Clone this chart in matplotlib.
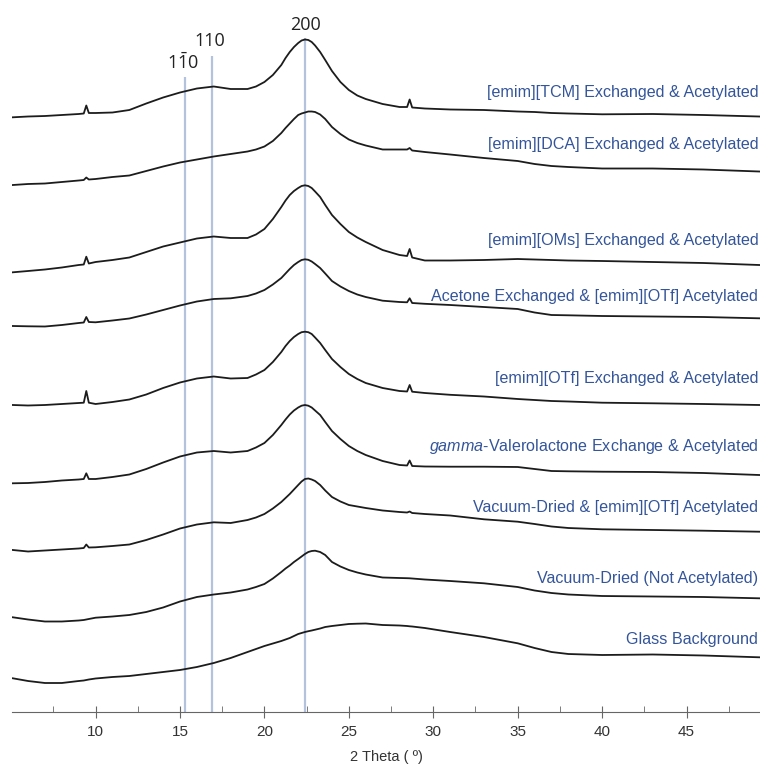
import numpy as np
import matplotlib.pyplot as plt
from matplotlib.ticker import MultipleLocator

# 2-theta sampling (degrees) shared by every pattern
two_theta = [5.1, 6, 7, 8, 9, 9.3, 9.45, 9.6, 10, 11, 12, 13, 14, 15, 16, 17, 18, 19,
             19.5, 20, 20.5, 21, 21.25, 21.5, 21.75, 22, 22.2, 22.4, 22.6, 22.8, 23.0, 23.3, 23.6,
             24, 24.5, 25, 25.5, 26, 27, 28, 28.45, 28.6, 28.75, 29.5, 31, 33, 35, 36, 37, 38,
             40, 43, 46, 49.3]

# stacked intensities (a.u.), top pattern first
tcm = [594.7, 595.5, 596, 597, 598, 598.5, 606.5, 599, 599, 599.5, 602, 608.5, 614.5, 619.5, 623.5,
       625.5, 623, 623,
       625.5, 630, 637, 647, 654, 660, 665, 669, 671.5, 672.5, 672, 670, 666.5, 660, 652, 641, 630,
       622, 616.5, 613,
       608, 605, 605, 612.5, 604.5, 603.5, 602.5, 602, 600.5, 600, 599, 598.5, 597.7, 598, 597, 595.5]
dca = [527, 528, 528.5, 530, 531.5, 532, 534.5, 532.5, 533, 535, 536.5, 541, 545.5, 549.5, 552.5,
       555.5, 558, 560.5,
       562.5, 565.5, 571, 579, 584, 588.5, 593, 597, 598.5, 599.5, 600.5, 600.5, 600, 597.5, 593,
       585, 578, 572.5, 569, 566.5,
       562.5, 562.5, 562.5, 564, 561.5, 560, 557.5, 554, 551, 548, 546, 545, 543.5, 543.5, 542.5, 540.5]
oms = [439.7, 441, 442.5, 444.5, 447, 447.5, 455.3, 448.5, 450, 452, 454.5, 460, 465.5, 469.5, 473.5,
       475.5, 474, 474,
       477.5, 483, 493, 505, 511.5, 517, 521, 524, 526, 526.7, 526, 524, 520.5, 515, 507, 497, 488,
       480, 474.5, 470,
       462, 457, 456, 463, 454.5, 451.5, 451.5, 452, 453, 452.5, 452, 451.5, 451, 450, 449, 447]
acetone = [386, 385.7, 385.5, 387, 389, 389.5, 395, 390, 389.7, 391.5, 393.5, 397.5, 402, 406.5, 410.5,
           413, 413.7, 416,
           418.5, 422, 427.5, 434, 438.5, 443, 447, 450, 452, 452.7, 452.2, 450.5, 448, 444, 438.5,
           431, 425.5, 421, 417.5, 415,
           411.3, 410, 409.7, 413.7, 409, 408.2, 407, 405, 403, 399.5, 397, 396.7, 396, 395.5, 395,
           393.7]
otf = [307, 306.5, 307, 308, 309, 309.3, 321, 309.3, 308, 310, 312.5, 317.5, 324, 329.5, 333.5, 335.5,
       333.5, 334,
       337.5, 342, 350, 360, 366, 371, 375, 378, 379.8, 380.3, 379.8, 378, 374.5, 369, 362, 353, 345,
       338, 333, 329,
       324, 321, 320.5, 327, 320.3, 319, 317.2, 315.5, 313, 312, 311, 310.5, 309.3, 308.7, 308, 307]
gvl = [228.7, 229, 230, 231.5, 232.5, 233, 238.7, 233, 233, 235, 237.5, 243, 249.5, 255.5, 259.5, 261,
       259.5, 261,
       264.5, 269, 277, 287, 292.5, 297.5, 301.5, 304.5, 306.3, 307, 306.3, 304.5, 301.5, 297, 290,
       281, 273, 266, 261, 257,
       251, 247, 246.5, 251.5, 246, 245.5, 245.3, 245.3, 245, 243, 241, 240.7, 240.3, 240, 239, 237]
vd_otf = [162, 160.5, 161.5, 162.5, 163.5, 164, 167.5, 164.5, 164.7, 166, 167.5, 172, 177.5, 183.5,
          187.5, 189.7, 189, 192,
          194.5, 198, 203.5, 210, 214, 218, 222.5, 227, 230.5, 233, 233.5, 232.5, 231, 227, 221.5,
          215, 210.5, 207, 205.5, 204,
          201.5, 200, 199.5, 200.5, 199, 198, 196.5, 192.7, 190.3, 188, 185.5, 184, 182.7, 182, 181.3,
          180.3]
vd = [94.7, 92.5, 90.5, 90.5, 91.5, 92, 92.5, 93, 94.3, 95.5, 97, 100, 104.5, 110.5, 115, 117.5,
      119.5, 122.5,
      125, 128, 133.5, 140, 143.5, 146.5, 150, 153, 155.5, 158, 160, 161, 161.3, 160, 157, 150, 145.5,
      142, 139.5, 137.5,
      134.5, 134, 133.8, 133.7, 133.5, 132.5, 131, 128.7, 125, 121.5, 119, 117.5, 116, 115.5, 115, 113.7]
glass = [33.7, 31, 29, 29, 31, 31.5, 32, 32.5, 33.5, 35, 36, 38, 40, 42, 45, 49, 54, 60,
         63, 66, 68.5, 71, 72.5, 74, 76, 78, 79, 80, 80.8, 81.5, 82.3, 83.5, 85, 86, 87, 88, 88.3, 88.5,
         87, 86.5, 86, 85.7, 85.5, 84, 80, 75, 68.7, 64, 60, 58, 57, 57.5, 56.5, 54.7]

series = [tcm, dca, oms, acetone, otf, gvl, vd_otf, vd, glass]
labels = ['[emim][TCM] Exchanged & Acetylated',
          '[emim][DCA] Exchanged & Acetylated',
          '[emim][OMs] Exchanged & Acetylated',
          'Acetone Exchanged & [emim][OTf] Acetylated',
          '[emim][OTf] Exchanged & Acetylated',
          r'$\mathit{gamma}$-Valerolactone Exchange & Acetylated',
          'Vacuum-Dried & [emim][OTf] Acetylated',
          'Vacuum-Dried (Not Acetylated)',
          'Glass Background']

# reflections
peak_pos = [15.3, 16.9, 22.4]
peak_names = [r'$\mathregular{1\bar{1}0}$', '110', '200']

plt.rcParams['font.family'] = ['Liberation Sans', 'DejaVu Sans']
plt.rcParams['mathtext.fontset'] = 'custom'
plt.rcParams['mathtext.rm'] = 'Liberation Sans'
plt.rcParams['mathtext.it'] = 'Liberation Sans:italic'

fig = plt.figure(figsize=(7.6, 7.65), dpi=100)
ax = fig.add_axes([12 / 760, 1 - 712 / 765, 748 / 760, 712 / 765])

label_col = '#34559a'
line_tops = [635, 656, 674]
name_y = [649, 671, 687]
name_x = [15.15, 16.75, 22.42]
ax.vlines(peak_pos, 0, line_tops, color='#b3c3de', lw=1.6, zorder=1)
for nx, ny, name in zip(name_x, name_y, peak_names):
    ax.text(nx, ny, name, ha='center', va='center', fontsize=13, family='Open Sans', color='#222222')

label_y = [620, 567, 472, 415, 333.5, 265.5, 204.5, 133.5, 72.5]
for ys, lab, ly in zip(series, labels, label_y):
    ax.plot(two_theta, ys, color='#1c1c1c', lw=1.3, zorder=2, solid_joinstyle='round')
    ax.text(49.25, ly, lab, ha='right', va='center', fontsize=11.6, color=label_col)

ax.set_xlim(5.05, 49.35)
ax.set_ylim(0, 712)
ax.xaxis.set_major_locator(MultipleLocator(5))
ax.xaxis.set_minor_locator(MultipleLocator(2.5))
ax.tick_params(axis='x', which='major', direction='inout', length=8, labelsize=11,
               color='#666666', labelcolor='#333333', pad=5)
ax.tick_params(axis='x', which='minor', direction='in', length=4, color='#666666')
ax.set_yticks([])
for side in ['left', 'right', 'top']:
    ax.spines[side].set_visible(False)
ax.spines['bottom'].set_color('#666666')
ax.set_xlabel('2 Theta ( º)', fontsize=10.5, color='#333333', labelpad=8)

fig.savefig('out.png', dpi=100)
